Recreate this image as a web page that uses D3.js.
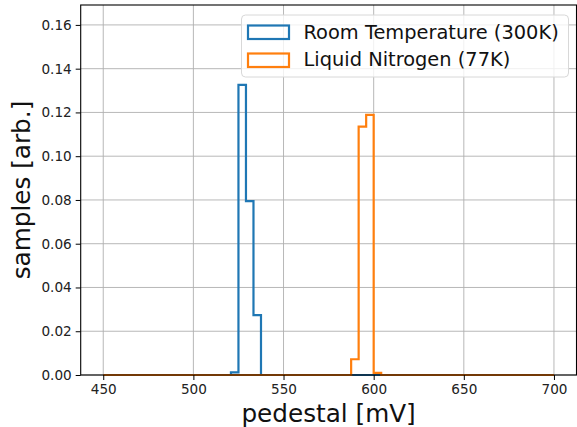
<!DOCTYPE html>
<html>
<head>
<meta charset="utf-8">
<script src="https://cdn.jsdelivr.net/npm/d3@7"></script>
<style>
    body { margin: 0; background: #fff; }
    svg { display: block; font-family: "DejaVu Sans", sans-serif; }
</style>
</head>
<body>
<div class="chart-container"></div>
<script>
// Histogram data (density, 60 bins between 450 and 700 mV)
const histRange = [450, 700];
const binCount = 60;

const roomBinIndex = [17, 18, 19, 20];
const roomDensity = [0.0012, 0.1326, 0.0795, 0.0274];

const nitrogenBinIndex = [33, 34, 35, 36];
const nitrogenDensity = [0.0072, 0.1135, 0.1189, 0.0010];

const seriesNames = ["Room Temperature (300K)", "Liquid Nitrogen (77K)"];
const seriesColors = ["#1f77b4", "#ff7f0e"];

const xTicks = [450, 500, 550, 600, 650, 700];
const yTicks = [0, 0.02, 0.04, 0.06, 0.08, 0.10, 0.12, 0.14, 0.16];

const w = 577, h = 427;
const plot = { left: 80.7, right: 576.5, top: 5, bottom: 375 };

const svg = d3.select(".chart-container").append("svg")
    .attr("width", w)
    .attr("height", h);

const xScale = d3.scaleLinear().domain([437.5, 712.5]).range([plot.left, plot.right]);
const yScale = d3.scaleLinear().domain([0, 0.1691]).range([plot.bottom, plot.top]);

// Grid
svg.append("g").selectAll("line").data(xTicks).enter().append("line")
    .attr("x1", d => xScale(d)).attr("x2", d => xScale(d))
    .attr("y1", plot.top).attr("y2", plot.bottom)
    .attr("stroke", "#b0b0b0").attr("stroke-width", 0.9);
svg.append("g").selectAll("line").data(yTicks).enter().append("line")
    .attr("x1", plot.left).attr("x2", plot.right)
    .attr("y1", d => yScale(d)).attr("y2", d => yScale(d))
    .attr("stroke", "#b0b0b0").attr("stroke-width", 0.9);

// Build full bin arrays and step outlines
function fullBins(idx, vals) {
    const arr = new Array(binCount).fill(0);
    idx.forEach((k, i) => { arr[k] = vals[i]; });
    return arr;
}
function stepPoints(vals) {
    const bw = (histRange[1] - histRange[0]) / binCount;
    const pts = [[histRange[0], 0]];
    vals.forEach((v, i) => {
        pts.push([histRange[0] + i * bw, v]);
        pts.push([histRange[0] + (i + 1) * bw, v]);
    });
    pts.push([histRange[1], 0]);
    return pts;
}
const line = d3.line().x(d => xScale(d[0])).y(d => yScale(d[1]));

const series = [
    fullBins(roomBinIndex, roomDensity),
    fullBins(nitrogenBinIndex, nitrogenDensity)
];
series.forEach((vals, i) => {
    svg.append("path")
        .attr("d", line(stepPoints(vals)))
        .attr("fill", "none")
        .attr("stroke", seriesColors[i])
        .attr("stroke-width", 2.2)
        .attr("stroke-linejoin", "miter");
});

// Axes
const xAxis = d3.axisBottom(xScale).tickValues(xTicks).tickSize(5).tickPadding(4).tickFormat(d3.format("d"));
const gx = svg.append("g")
    .attr("transform", `translate(0, ${plot.bottom})`)
    .call(xAxis);
const yAxis = d3.axisLeft(yScale).tickValues(yTicks).tickSize(5).tickPadding(4).tickFormat(d3.format(".2f"));
const gy = svg.append("g")
    .attr("transform", `translate(${plot.left}, 0)`)
    .call(yAxis);
[gx, gy].forEach(g => {
    g.select(".domain").remove();
    g.selectAll("line").attr("stroke", "#000").attr("stroke-width", 1);
    g.selectAll("text").attr("fill", "#222").style("font-size", "13.6px").style("font-family", "DejaVu Sans");
});

// Frame
svg.append("rect")
    .attr("x", plot.left).attr("y", plot.top)
    .attr("width", plot.right - plot.left).attr("height", plot.bottom - plot.top)
    .attr("fill", "none").attr("stroke", "#000").attr("stroke-width", 1.1);

// Axis labels
svg.append("text")
    .attr("x", (plot.left + plot.right) / 2)
    .attr("y", 422)
    .attr("text-anchor", "middle")
    .style("font-size", "24.7px")
    .attr("fill", "#111")
    .text("pedestal [mV]");

svg.append("text")
    .attr("transform", `translate(30, ${(plot.top + plot.bottom) / 2}) rotate(-90)`)
    .attr("text-anchor", "middle")
    .style("font-size", "24.7px")
    .attr("fill", "#111")
    .text("samples [arb.]");

// Legend
const legend = svg.append("g").attr("transform", "translate(241.5, 15)");
legend.append("rect")
    .attr("width", 327).attr("height", 62)
    .attr("rx", 4)
    .attr("fill", "rgba(255,255,255,0.8)")
    .attr("stroke", "#d8d8d8");
seriesNames.forEach((name, i) => {
    legend.append("rect")
        .attr("x", 6.5).attr("y", 10.5 + i * 28)
        .attr("width", 41).attr("height", 13.5)
        .attr("fill", "none")
        .attr("stroke", seriesColors[i])
        .attr("stroke-width", 2.2);
    legend.append("text")
        .attr("x", 62).attr("y", 23.5 + i * 27.3)
        .style("font-size", "19.4px")
        .attr("fill", "#111")
        .text(name);
});
</script>
</body>
</html>
